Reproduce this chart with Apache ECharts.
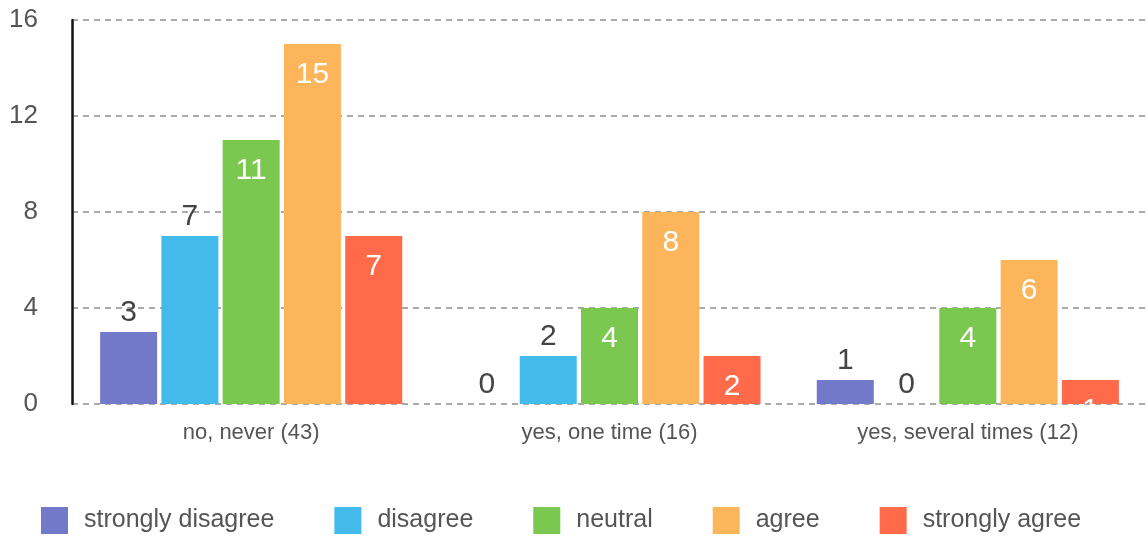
<!DOCTYPE html>
<html><head><meta charset="utf-8">
<script src="https://cdn.jsdelivr.net/npm/echarts@6/dist/echarts.min.js"></script>
<style>html,body{margin:0;padding:0;background:#fff}#c{width:1147px;height:536px}</style>
</head><body><div id="c"></div>
<script>
const categories = ['no, never (43)', 'yes, one time (16)', 'yes, several times (12)'];
const seriesNames = ['strongly disagree', 'disagree', 'neutral', 'agree', 'strongly agree'];
const stronglyDisagree = [3, 0, 1];
const disagree = [7, 2, 0];
const neutral = [11, 4, 4];
const agree = [15, 8, 6];
const stronglyAgree = [7, 2, 1];
const yTicks = [0, 4, 8, 12, 16];

const colors = ['#7279c9', '#42bbea', '#7bc850', '#fdb55b', '#fe6a4a'];
const values = [stronglyDisagree, disagree, neutral, agree, stronglyAgree];
const FONT = '"Liberation Sans", Arial, sans-serif';

const chart = echarts.init(document.getElementById('c'));
chart.setOption({
  animation: false,
  textStyle: { fontFamily: FONT },
  grid: { left: 72, right: 0, top: 20, bottom: 132 },
  legend: {
    left: 41, top: 507, padding: 0, itemWidth: 27, itemHeight: 27, itemGap: 60,
    icon: 'rect',
    textStyle: { fontSize: 25, color: '#555', fontFamily: FONT, padding: [0, 0, 0, 11] },
    data: seriesNames
  },
  xAxis: {
    type: 'category', data: categories,
    axisLine: { show: false }, axisTick: { show: false },
    axisLabel: { fontSize: 22, color: '#555', margin: 18 }
  },
  yAxis: {
    type: 'value', min: yTicks[0], max: yTicks[yTicks.length - 1], interval: 4,
    axisLine: { show: true, lineStyle: { color: '#111', width: 2.5 } },
    axisTick: { show: false },
    axisLabel: { fontSize: 26, color: '#555', margin: 34 },
    splitLine: { lineStyle: { color: '#aaa', width: 2, type: [6, 5] } }
  },
  series: seriesNames.map((name, i) => ({
    name, type: 'bar', data: values[i], barWidth: 57, barGap: '7.5%',
    itemStyle: { color: colors[i] },
    label: i < 2
      ? { show: true, position: 'top', distance: 4, fontSize: 30, color: '#444' }
      : { show: true, position: 'insideTop', distance: 16, fontSize: 30, color: '#fff' }
  }))
});
</script></body></html>
